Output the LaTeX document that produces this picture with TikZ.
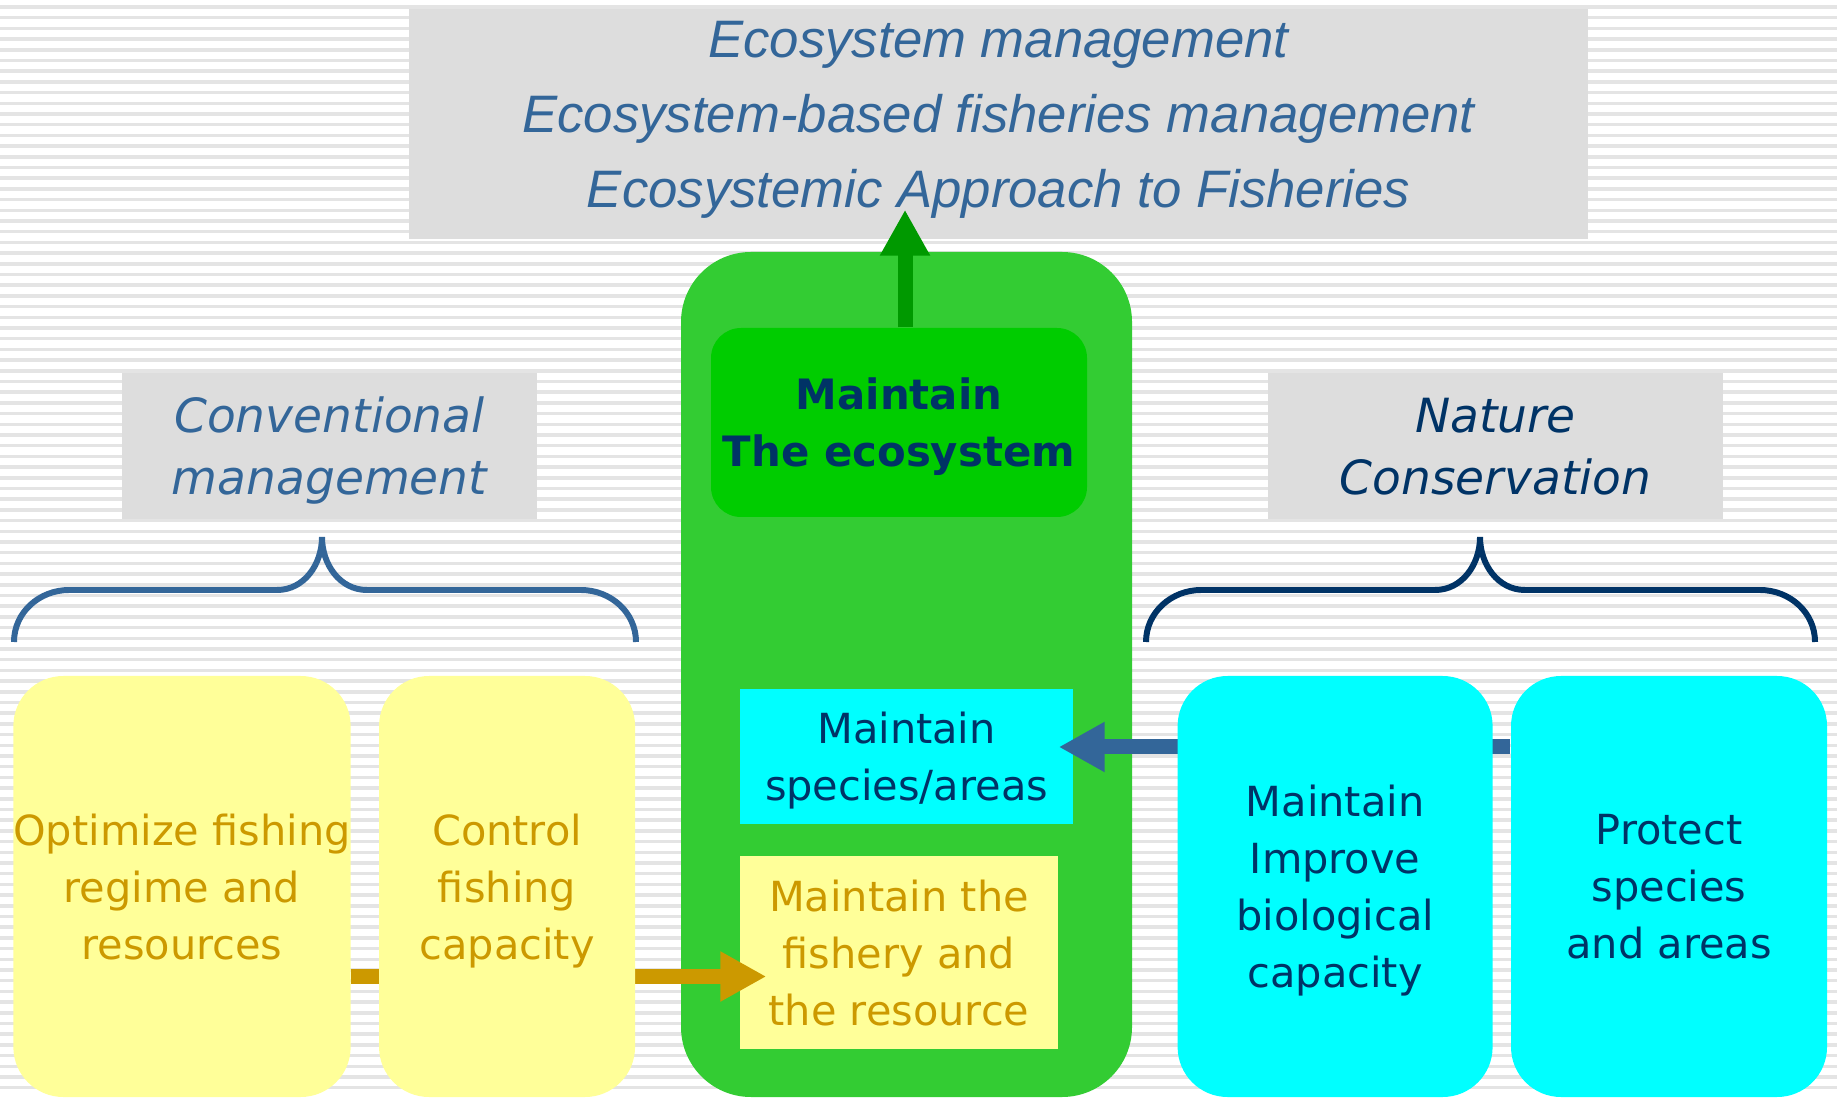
\documentclass[tikz,border=0pt]{standalone}
\usepackage{fontspec}
\setmainfont{DejaVu Sans}
\newfontfamily\arialfont{Liberation Sans}
\usepackage{tikz}
\usetikzlibrary{arrows.meta, calc, positioning}
\definecolor{EC-grey}{HTML}{DDDDDD}
\definecolor{EC-stripe}{HTML}{E4E4E4}
\definecolor{EC-green}{HTML}{33CC33}
\definecolor{EC-dgreen}{HTML}{00CC00}
\definecolor{EC-arrow}{HTML}{009900}
\definecolor{EC-cyan}{HTML}{00FFFF}
\definecolor{EC-yellow}{HTML}{FFFF99}
\definecolor{EC-gold}{HTML}{CC9900}
\definecolor{EC-navy}{HTML}{003366}
\definecolor{EC-steel}{HTML}{336699}
\tikzset{
  box/.style={inner sep=0pt, text depth=0pt, align=center, font=\fontsize{11.8}{16.2}\selectfont},
  tall/.style={box, rounded corners=0.5cm, minimum height=4.21cm},
  title/.style={fill=EC-grey, inner sep=0pt, text depth=0pt, align=center, minimum height=1.46cm, font=\itshape\fontsize{13.4}{17.6}\selectfont},
  bracket/.style={line width=1.7pt},
  fat/.style={line width=0.15cm, -{Triangle[length=0.46cm,width=0.47cm]}}
}

\begin{document}
\begin{tikzpicture}
  \useasboundingbox (0,0) rectangle (18.37,10.97);
  \fill[white] (0,0) rectangle (18.37,10.97);
  \foreach \y in {0.07,0.177,...,10.97}
    \draw[EC-stripe, line width=0.035cm] (0,{10.97-\y}) -- (18.37,{10.97-\y});

  \node[fill=EC-grey, minimum width=11.79cm, minimum height=2.30cm, inner sep=0pt] (Top) at (9.985,9.73) {};
  \node[align=center, text=EC-steel, font=\arialfont\itshape\fontsize{15}{21.3}\selectfont] (TopTxt) at ([yshift=0.04cm]Top.center) {Ecosystem management\\Ecosystem-based fisheries management\\Ecosystemic Approach to Fisheries};

  \node[title, minimum width=4.15cm, text=EC-steel] (Conv) at (3.295,6.51) {Conventional\\management};
  \node[title, minimum width=4.55cm, text=EC-navy] (Nat) at (14.955,6.51) {Nature\\Conservation};

  \draw[bracket, EC-steel] (0.14,4.55) to[out=90,in=180] (0.69,5.07) -- (2.77,5.07) to[out=0,in=-90] (3.22,5.60)
    to[out=-90,in=180] (3.67,5.07) -- (5.81,5.07) to[out=0,in=90] (6.36,4.55);
  \draw[bracket, EC-navy] (11.46,4.55) to[out=90,in=180] (12.01,5.07) -- (14.35,5.07) to[out=0,in=-90] (14.80,5.60)
    to[out=-90,in=180] (15.25,5.07) -- (17.60,5.07) to[out=0,in=90] (18.15,4.55);

  \node[tall, fill=EC-yellow, text=EC-gold, minimum width=3.32cm] (Opt) at (1.82,2.105) {Optimize fishing\\regime and\\resources};
  \node[tall, fill=EC-cyan, text=EC-navy, minimum width=3.16cm] (Prot) at (16.69,2.105) {Protect\\species\\and areas};

  \node[fill=EC-green, rounded corners=0.7cm, minimum width=4.51cm, minimum height=8.45cm, inner sep=0pt] (Eco) at (9.065,4.225) {};
  \node[box, fill=EC-dgreen, rounded corners=0.3cm, minimum width=3.76cm, minimum height=1.89cm, text=EC-navy, font=\bfseries\fontsize{11.9}{16.2}\selectfont] (MEco) at (8.99,6.745) {Maintain\\The ecosystem};
  \node[box, fill=EC-cyan, text=EC-navy, minimum width=3.33cm, minimum height=1.35cm] (Spec) at (9.065,3.405) {Maintain\\species/areas};
  \node[box, fill=EC-yellow, text=EC-gold, minimum width=3.18cm, minimum height=1.93cm] (Fish) at (8.99,1.445) {Maintain the\\fishery and\\the resource};

  \coordinate (OrgStart) at ($(Opt.east)+(0,-0.9)$);
  \coordinate (BluStart) at ($(Prot.west)+(0,1.395)$);
  \draw[fat, EC-arrow, shorten >=-0.3cm] ([xshift=0.06cm]MEco.north) -- ([xshift=0.06cm]MEco.north |- Top.south);
  \draw[fat, EC-gold, shorten >=-0.27cm] (OrgStart) -- (OrgStart -| Fish.west);
  \draw[fat, EC-steel, shorten >=-0.15cm] (BluStart) -- (BluStart -| Spec.east);

  \node[tall, fill=EC-yellow, text=EC-gold, minimum width=2.56cm, right=0.27cm of Opt] (Ctrl) {Control\\fishing\\capacity};
  \node[tall, fill=EC-cyan, text=EC-navy, minimum width=3.15cm, left=0.17cm of Prot] (Impr) {Maintain\\Improve\\biological\\capacity};
\end{tikzpicture}
\end{document}
